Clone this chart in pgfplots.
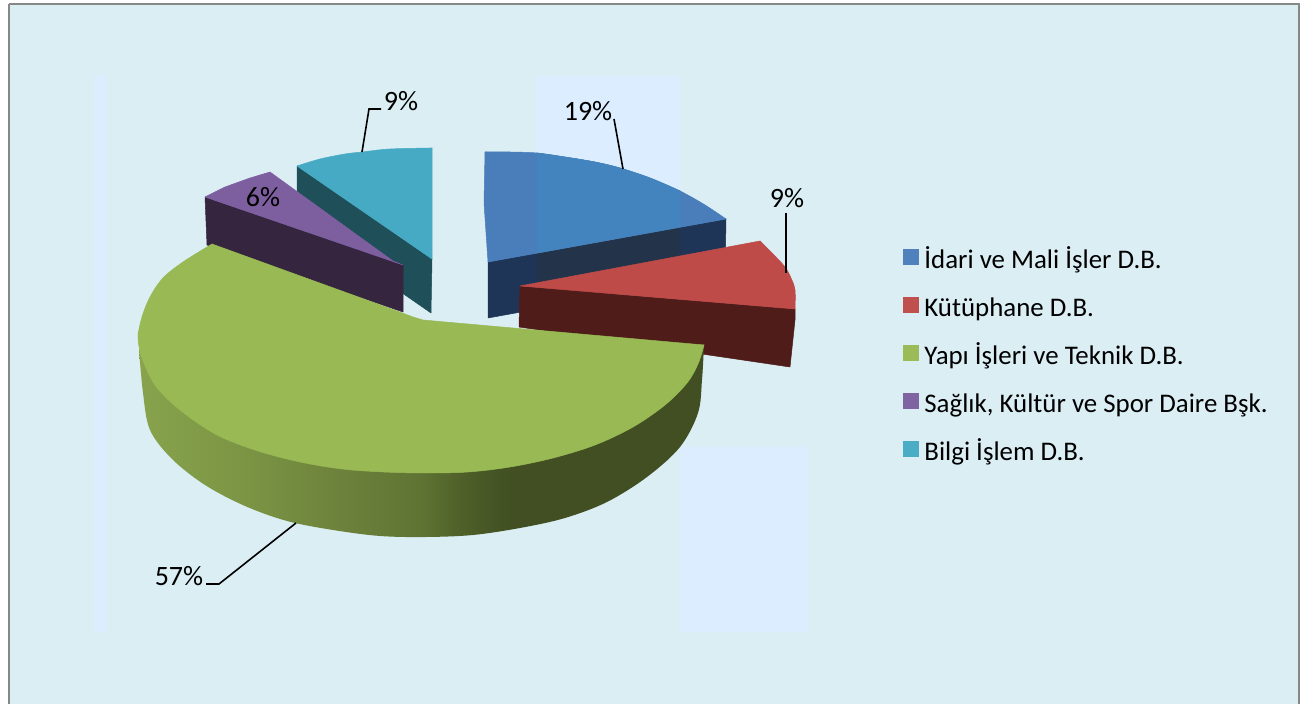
\documentclass[border=0pt]{standalone}
\usepackage{pgfplots}
\pgfplotsset{compat=1.18}
\usepackage{fontspec}
\setmainfont{Carlito}
\definecolor{panel}{HTML}{DBEEF4}
\definecolor{stripe}{HTML}{DBEDFE}
\definecolor{frame}{HTML}{878787}
\definecolor{lgb}{HTML}{4F81BD}
\definecolor{lgr}{HTML}{C0504D}
\definecolor{lgg}{HTML}{9BBB59}
\definecolor{lgp}{HTML}{8064A2}
\definecolor{lgt}{HTML}{4BACC6}
\definecolor{topb}{HTML}{4A7EBB}
\definecolor{topbs}{HTML}{4484BE}
\definecolor{sideb}{HTML}{1F3557}
\definecolor{sidebs}{HTML}{23344A}
\definecolor{topr}{HTML}{BE4B48}
\definecolor{sider}{HTML}{4F1C1A}
\definecolor{topg}{HTML}{98B954}
\definecolor{topp}{HTML}{7D5FA0}
\definecolor{sidep}{HTML}{35253F}
\definecolor{topt}{HTML}{46AAC4}
\definecolor{sidet}{HTML}{1F4F58}
\definecolor{gs0}{HTML}{88A34C}
\definecolor{gs1}{HTML}{7A9444}
\definecolor{gs2}{HTML}{6B803A}
\definecolor{gs3}{HTML}{5F7433}
\definecolor{gs4}{HTML}{4F6029}
\definecolor{gs5}{HTML}{414F22}
\pgfdeclarehorizontalshading{greenside}{100bp}{
 color(0bp)=(gs0); color(25bp)=(gs0); color(34.8bp)=(gs1); color(43.7bp)=(gs2); color(49.9bp)=(gs3);
 color(53.5bp)=(gs4); color(57.9bp)=(gs5); color(100bp)=(gs5)}
\pgfplotsset{
  face/.style={forget plot, fill=#1, draw=#1, line width=0.25pt, line join=round},
  arc/.style={forget plot, fill=#1, draw=#1, line width=0.25pt, smooth, tension=0.55},
  leader/.style={forget plot, color=black, line width=0.8pt},
}
\begin{document}
\begin{tikzpicture}
\path[use as bounding box] (0,0) rectangle (658pt,352pt);
\begin{axis}[
  at={(0,0)}, anchor=south west,
  width=658pt, height=352pt, scale only axis,
  xmin=0, xmax=1316, ymin=0, ymax=704, y dir=reverse,
  hide axis, clip=true,
  legend style={at={(axis cs:897,245)}, anchor=north west, draw=none, fill=none,
    font=\fontsize{13.44pt}{15pt}\selectfont, row sep=12pt,
    nodes={inner sep=0pt, text height=8.5pt, text depth=2.5pt},
    /tikz/every odd column/.append style={column sep=2.6pt}},
  legend cell align=left,
  legend image code/.code={\fill[#1] (0pt,-1.2pt) rectangle (7.5pt,6.3pt);},
]
% panel and pale bands
\addplot[forget plot, draw=frame, line width=1pt, fill=panel] coordinates {(9,4) (1299,4) (1299,720) (9,720) (9,4)};
\addplot[forget plot, draw=none, fill=stripe] coordinates {(94,76) (106,76) (106,632) (94,632) (94,76)};
\addplot[forget plot, draw=none, fill=stripe] coordinates {(536,76) (680,76) (680,270) (536,270) (536,76)};
\addplot[forget plot, draw=none, fill=stripe] coordinates {(680,447) (808,447) (808,632) (680,632) (680,447)};
% teal slice
\addplot[face=sidet] coordinates {(297,166) (432,259) (431,313) (297,220) (297,166)};
\addplot[arc=topt] coordinates {(297,166) (320,159) (345,154) (362,152) (390,149) (432,148)};
\addplot[face=topt] coordinates {(297,166) (362,154) (432,148) (432,259) (297,166)};
% purple slice
\addplot[face=sidep] coordinates {(205,197) (207,245) (403,312) (403,265) (393,261) (205,197)};
\addplot[face=topp] coordinates {(205,197) (225,187) (250,178) (270,172) (393,261) (403,265) (205,197)};
% blue slice
\addplot[face=sideb] coordinates {(488,262) (726,219) (725,275) (488,318) (488,262)};
\addplot[face=sidebs] coordinates {(537,253) (680,227) (680,283) (537,309) (537,253)};
\addplot[arc=topb] coordinates {(485,152) (510,152) (537,153) (565,157) (595,162) (620,168) (650,178) (680,191) (705,205) (726,219)};
\addplot[face=topb] coordinates {(485,152) (560,160) (620,172) (726,219) (488,262) (484,203) (485,152)};
\addplot[arc=topbs] coordinates {(537,153) (565,157) (595,162) (620,168) (650,178) (680,191)};
\addplot[face=topbs] coordinates {(537,153) (620,171) (680,191) (680,227) (537,253) (537,153)};
% red slice
\addplot[face=sider] coordinates {(520,286) (795,309) (795,320) (790,367) (519,327) (520,286)};
\addplot[arc=topr] coordinates {(760,241) (773,254) (785,267) (791,278) (795,290) (795,309)};
\addplot[face=topr] coordinates {(520,286) (760,241) (780,268) (795,309) (520,286)};
% green slice, side then top
\addplot[forget plot, draw=none, shade, shading=greenside, smooth, tension=0.55] coordinates {(704,345) (702,380) (698,413) (680,447) (647,477) (607,502) (565,518) (520,528) (473,535) (426,537) (380,536) (333,530) (287,521) (245,506) (205,485) (172,459) (150,430) (143,393) (139,350)};
\addplot[arc=topg] coordinates {(704,345) (698,364) (687,383) (665,405) (633,427) (595,445) (553,458) (510,467) (468,472) (426,473) (384,472) (342,469) (300,462) (258,451) (217,435) (180,410) (155,385) (141,355) (138,332)};
\addplot[arc=topg] coordinates {(141,355) (138,337) (142,317) (150,297) (163,278) (183,262) (212,244)};
\addplot[face=topg] coordinates {(212,244) (397,311) (413,317) (423,320) (704,345) (440,420) (142,340) (153,300) (212,244)};
% leader lines
\addplot[leader] coordinates {(614,119) (623,169)};
\addplot[leader] coordinates {(786,213) (786,273)};
\addplot[leader] coordinates {(381,109) (369,109) (362,152)};
\addplot[leader] coordinates {(206,584) (219,584) (296,523)};
% legend
\addlegendimage{lgb}\addlegendentry{İdari ve Mali İşler D.B.}
\addlegendimage{lgr}\addlegendentry{Kütüphane D.B.}
\addlegendimage{lgg}\addlegendentry{Yapı İşleri ve Teknik D.B.}
\addlegendimage{lgp}\addlegendentry{Sağlık, Kültür ve Spor Daire Bşk.}
\addlegendimage{lgt}\addlegendentry{Bilgi İşlem D.B.}
% value labels
\node[font=\fontsize{14pt}{16pt}\selectfont, inner sep=0pt] at (axis cs:588,111) {19\%};
\node[font=\fontsize{14pt}{16pt}\selectfont, inner sep=0pt] at (axis cs:787,198) {9\%};
\node[font=\fontsize{14pt}{16pt}\selectfont, inner sep=0pt] at (axis cs:401,101) {9\%};
\node[font=\fontsize{14pt}{16pt}\selectfont, inner sep=0pt] at (axis cs:263,197) {6\%};
\node[font=\fontsize{14pt}{16pt}\selectfont, inner sep=0pt] at (axis cs:179,576) {57\%};
\end{axis}
\end{tikzpicture}
\end{document}
